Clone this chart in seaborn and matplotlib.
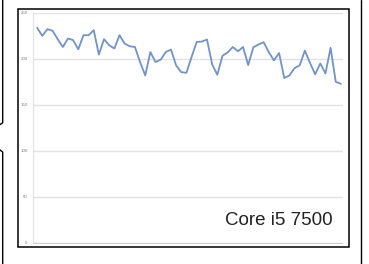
import matplotlib
matplotlib.use("Agg")
import matplotlib.pyplot as plt
from matplotlib.lines import Line2D
from matplotlib.patches import Rectangle
import seaborn as sns
import pandas as pd
import numpy as np

# values, one per sample
scores = [233.6, 224.8, 232.1, 230.3, 221.2, 212.7, 221.9, 220.1, 210.2, 225.5,
          225.5, 231.0, 204.4, 221.2, 214.6, 211.0, 225.5, 216.4, 213.5, 212.7,
          196.3, 181.7, 207.2, 196.3, 198.9, 207.2, 209.9, 192.7, 185.3, 184.6,
          201.8, 218.2, 218.6, 220.8, 193.8, 182.5, 203.1, 206.7, 212.7, 208.0,
          212.7, 193.0, 212.4, 215.4, 217.9, 206.9, 198.1, 206.1, 178.9, 181.7,
          189.7, 192.7, 208.8, 195.4, 183.0, 194.8, 183.9, 211.8, 174.8, 172.6]
y_ticks = [0, 50, 100, 150, 200, 250]
label = "Core i5 7500"

data = pd.DataFrame({"run": np.arange(len(scores)), "score": scores})

sns.set_style("white")
plt.rcParams['font.family'] = ['Liberation Sans', 'DejaVu Sans']

fig = plt.figure(figsize=(3.69, 2.64), dpi=100)
ax = fig.add_axes([0.0894, 0.0814, 0.840, 0.8705])

sns.lineplot(data=data, x="run", y="score", ax=ax, color="#7093c8", linewidth=1.3)

ax.set_xlim(-0.8, len(scores) - 0.6)
ax.set_ylim(0, 250)
ax.set_yticks(y_ticks)
ax.set_yticklabels([str(t) for t in y_ticks], fontsize=3.2, color="#808080")
ax.set_xticks(np.arange(len(scores)))
ax.set_xticklabels([])
ax.tick_params(axis="x", length=1.5, width=0.6, color="#c8c8c8", direction="in")
ax.tick_params(axis="y", length=0, pad=4)
ax.set(xlabel="", ylabel="")
ax.grid(axis="y", color="#e2e2e2", linewidth=1.0)
for side in ["top", "right"]:
    ax.spines[side].set_visible(False)
ax.spines["left"].set_color("#e2e2e2")
ax.spines["bottom"].set_color("#d0d0d0")
ax.spines["bottom"].set_linestyle((0, (2, 1)))
ax.spines["bottom"].set_linewidth(0.8)

ax.text(0.968, 0.076, label, transform=ax.transAxes, ha="right", va="baseline",
        fontsize=13.5, color="#222222")

# the black frame round the chart, and the bits of neighbouring frames
fig.add_artist(Rectangle((0.0501, 0.0655), 0.8965, 0.8993, transform=fig.transFigure,
                         fill=False, edgecolor="black", linewidth=1.1))
fig.add_artist(Line2D([0.0073, 0.0073, 0.0], [1.0, 0.535, 0.528],
                      transform=fig.transFigure, color="black", linewidth=1.0))
fig.add_artist(Line2D([0.0, 0.0073, 0.0073], [0.432, 0.424, 0.0],
                      transform=fig.transFigure, color="black", linewidth=1.0))
fig.add_artist(Line2D([0.9775, 0.9775], [0.0, 1.0],
                      transform=fig.transFigure, color="black", linewidth=1.0))

plt.savefig("out.png", dpi=100)
